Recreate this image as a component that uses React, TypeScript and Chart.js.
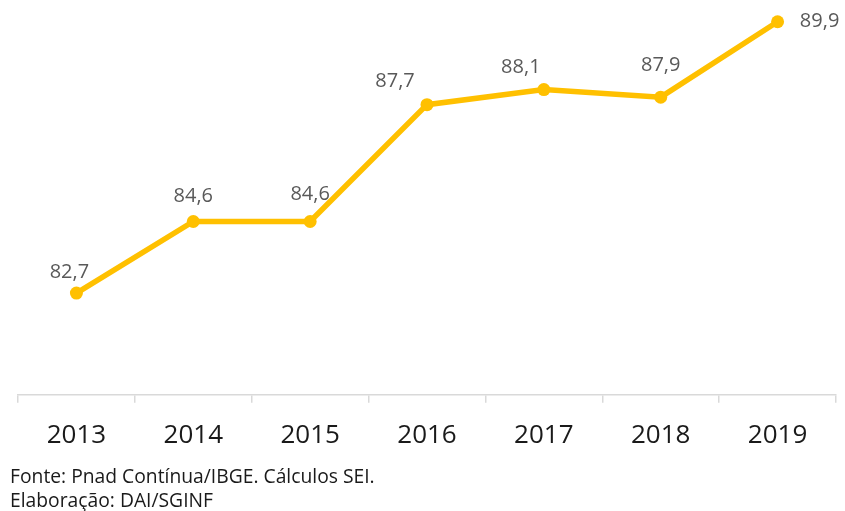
import React, { useEffect, useRef } from "react";
import { Chart, registerables } from "chart.js";

Chart.register(...registerables);

const years = ["2013", "2014", "2015", "2016", "2017", "2018", "2019"];
const values = [82.7, 84.6, 84.6, 87.7, 88.1, 87.9, 89.9];
const valueLabels = ["82,7", "84,6", "84,6", "87,7", "88,1", "87,9", "89,9"];
const yMin = 80;
const yMax = 90;
const footnotes = ["Fonte: Pnad Contínua/IBGE. Cálculos SEI.", "Elaboração: DAI/SGINF"];

// label offsets (style) relative to each point, in px
const labelDx = [-7, 0, 0, -32, -23, 0, 42];
const labelDy = [-21, -25, -27, -23, -22, -32, 0];

const FONT = "'Open Sans', 'DejaVu Sans', sans-serif";

const labelPlugin = {
  id: "valueLabels",
  afterDatasetsDraw(chart: any) {
    const meta = chart.getDatasetMeta(0);
    const ctx = chart.ctx;
    ctx.save();
    ctx.font = `20px ${FONT}`;
    ctx.fillStyle = "#595959";
    ctx.textAlign = "center";
    ctx.textBaseline = "middle";
    meta.data.forEach((pt: any, i: number) => {
      ctx.fillText(valueLabels[i], pt.x + labelDx[i], pt.y + labelDy[i]);
    });
    ctx.restore();
  },
};

export default function App() {
  const ref = useRef<HTMLCanvasElement | null>(null);
  useEffect(() => {
    if (!ref.current) return;
    const chart = new Chart(ref.current, {
      type: "line",
      data: {
        labels: years,
        datasets: [
          {
            data: values,
            borderColor: "#FFC000",
            backgroundColor: "#FFC000",
            borderWidth: 5.5,
            pointRadius: 6.5,
            pointBackgroundColor: "#FFC000",
            pointBorderColor: "#FFC000",
            pointBorderWidth: 0,
            tension: 0,
            clip: false,
          },
        ],
      },
      options: {
        animation: false,
        responsive: false,
        maintainAspectRatio: false,
        layout: { padding: { left: 18, right: 9, top: 18, bottom: 43 } },
        plugins: {
          legend: { display: false },
          tooltip: { enabled: false },
        },
        scales: {
          x: {
            type: "category",
            offset: true,
            grid: {
              display: true,
              offset: true,
              drawOnChartArea: false,
              drawTicks: true,
              tickLength: 8,
              color: "#d9d9d9",
              lineWidth: 1.5,
            },
            border: { display: true, color: "#d9d9d9", width: 1.5 },
            ticks: {
              color: "#1a1a1a",
              font: { family: FONT, size: 26 },
              padding: 17,
              maxRotation: 0,
              autoSkip: false,
            },
          },
          y: {
            display: false,
            min: yMin,
            max: yMax,
          },
        },
      },
      plugins: [labelPlugin],
    });
    return () => chart.destroy();
  }, []);

  return (
    <div style={{ position: "fixed", left: 0, top: 0, width: 845, height: 511, background: "#fff" }}>
      <canvas ref={ref} width={845} height={511} style={{ position: "absolute", left: 0, top: 0, width: 845, height: 511 }} />
      {footnotes.map((t, i) => (
        <div
          key={i}
          style={{
            position: "absolute",
            left: 10,
            top: 464 + i * 24,
            fontFamily: FONT,
            fontSize: 19.3,
            lineHeight: "24px",
            color: "#1a1a1a",
            whiteSpace: "nowrap",
          }}
        >
          {t}
        </div>
      ))}
    </div>
  );
}
